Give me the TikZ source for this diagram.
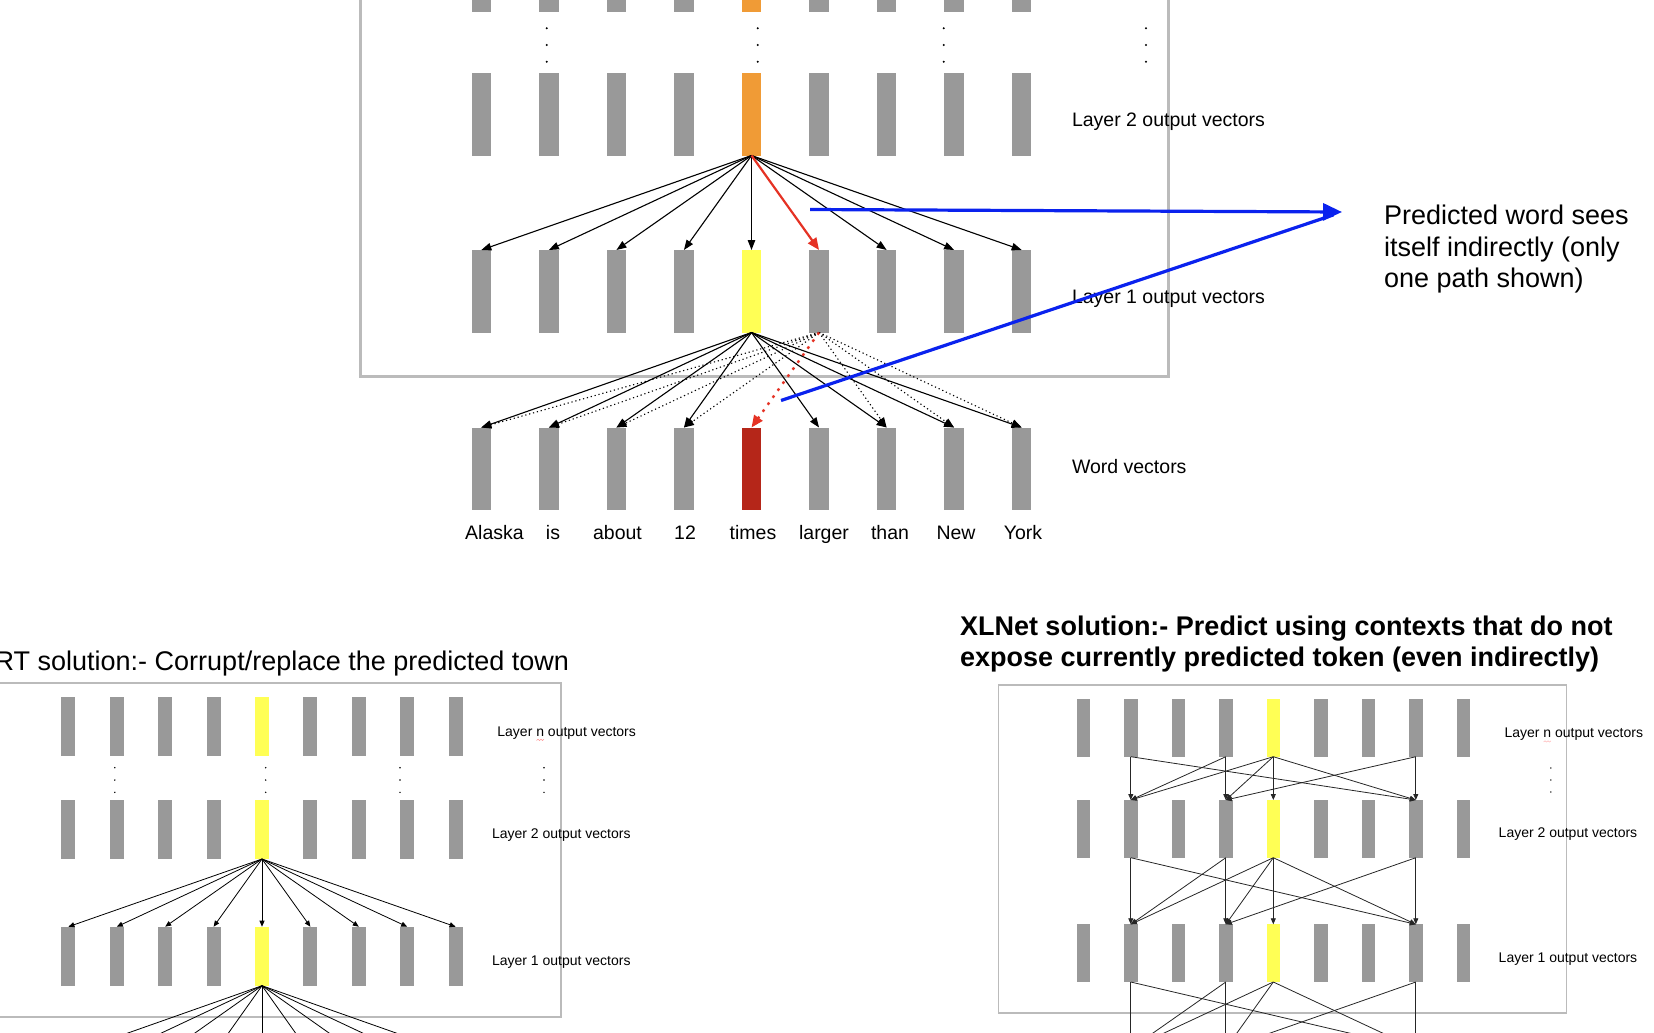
\documentclass[tikz,border=0pt]{standalone}
\usepackage{fontspec}
\setmainfont{Liberation Sans}
\usetikzlibrary{arrows.meta}
\definecolor{barg}{HTML}{999999}
\definecolor{boxg}{HTML}{BBBBBB}
\definecolor{orng}{HTML}{F09B36}
\definecolor{yel}{HTML}{FFFF55}
\definecolor{dred}{HTML}{B52619}
\definecolor{rarr}{HTML}{E53224}
\definecolor{blu}{HTML}{0A22EE}
\newcommand{\fszSmall}{\fontsize{14}{16}\selectfont}
\newcommand{\fszMid}{\fontsize{19.5}{23}\selectfont}
\newcommand{\fszBig}{\fontsize{27}{31}\selectfont}
\begin{document}
\begin{tikzpicture}[x=1pt,y=-1pt,
  tbar/.style={fill=barg, minimum width=19.5pt, minimum height=82.5pt, inner sep=0pt, outer sep=0pt, anchor=north},
  bbar/.style={fill=barg, minimum width=14pt, minimum height=59pt, inner sep=0pt, outer sep=0pt, anchor=north},
  xbar/.style={fill=barg, minimum width=13.5pt, minimum height=57.7pt, inner sep=0pt, outer sep=0pt, anchor=north},
  topbox/.style={draw=boxg, line width=3pt},
  lowbox/.style={draw=boxg, line width=1.8pt},
  tarr/.style={-{Triangle[length=10pt,width=7.5pt]}, line width=1.1pt, black},
  tdot/.style={-{Triangle[length=10pt,width=7.5pt]}, line width=1.1pt, black, dash pattern=on 1.2pt off 2.8pt},
  rarrow/.style={-{Triangle[length=12pt,width=10pt]}, line width=2.2pt, rarr},
  rdot/.style={-{Triangle[length=12pt,width=10pt]}, line width=2.4pt, rarr, dash pattern=on 2.6pt off 6pt},
  barrow/.style={line width=3.2pt, blu},
  barr/.style={-{Triangle[length=6pt,width=5pt]}, line width=0.8pt, black},
  xarr/.style={-{Triangle[length=6pt,width=5pt]}, line width=0.8pt, black!85},
  txt/.style={inner sep=0pt, outer sep=0pt},
  squig/.style={red!45, line width=0.5pt}
]
\useasboundingbox (0,0) rectangle (1654,1033);

% ---------------- top panel ----------------
\draw[topbox] (360,-20) rectangle (1168,376);
\foreach \i/\c in {1/barg,2/barg,3/barg,4/barg,5/orng,6/barg,7/barg,8/barg,9/barg}{
  \node[tbar, fill=\c] (tn-\i) at ({481.3+67.55*(\i-1)},-70) {};
  \node[tbar, fill=\c] (t2-\i) at ({481.3+67.55*(\i-1)},73) {};
}
\foreach \i/\c in {1/barg,2/barg,3/barg,4/barg,5/yel,6/barg,7/barg,8/barg,9/barg}
  \node[tbar, fill=\c] (t1-\i) at ({481.3+67.55*(\i-1)},250) {};
\foreach \i/\c in {1/barg,2/barg,3/barg,4/barg,5/dred,6/barg,7/barg,8/barg,9/barg}
  \node[tbar, fill=\c] (tw-\i) at ({481.3+67.55*(\i-1)},427.5) {};
\foreach \x in {546.7,757.7,943.7,1146}
  \foreach \y in {28.3,45,61.7}
    \fill (\x,\y) circle (1.1pt);

% dotted paths from "larger" layer-1 vector
\foreach \i in {1,2,3,4,7,8,9}
  \draw[tdot] (t1-6.south) -- (tw-\i.north);
\draw[rdot] (t1-6.south) -- (tw-5.north);
% layer 2 -> layer 1
\foreach \i in {1,2,3,4,5,7,8,9}
  \draw[tarr] (t2-5.south) -- (t1-\i.north);
\draw[rarrow] (t2-5.south) -- (t1-6.north);
% layer 1 -> words
\foreach \i in {1,2,3,4,6,7,8,9}
  \draw[tarr] (t1-5.south) -- (tw-\i.north);

\foreach \w/\x [count=\i] in {Alaska/494.5, is/553, about/617.5, 12/685, times/753, larger/824, than/890, New/956, York/1023}
  \node[txt, anchor=base, font=\fszMid] (word-\i) at (\x,539) {\w};
\node[txt, anchor=base west, font=\fszMid] (lab-t2) at (1072,126.7) {Layer 2 output vectors};
\node[txt, anchor=base west, font=\fszMid] (lab-t1) at (1072,303.5) {Layer 1 output vectors};
\node[txt, anchor=base west, font=\fszMid] (lab-tw) at (1072,473) {Word vectors};

% blue arrows
\coordinate (bs1) at (810,209.5);
\coordinate (bs2) at (781,400.5);
\coordinate (btip) at (1342,212);
\draw[barrow, shorten >=9pt] (bs2) -- (btip);
\draw[barrow, -{Triangle[length=19pt,width=17pt]}] (bs1) -- (btip);
\node[txt, anchor=base west, font=\fszBig] (note1) at (1384,224) {Predicted word sees};
\node[txt, anchor=base west, font=\fszBig] (note2) at (1384,256) {itself indirectly (only};
\node[txt, anchor=base west, font=\fszBig] (note3) at (1384,287.5) {one path shown)};

% ---------------- BERT panel ----------------
\node[txt, anchor=base east, font=\fszBig] (bert-title) at (569,670.5) {BERT solution:- Corrupt/replace the predicted town};
\draw[lowbox] (-10,683) rectangle (561,1017);
\foreach \i/\c in {1/barg,2/barg,3/barg,4/barg,5/yel,6/barg,7/barg,8/barg,9/barg}{
  \node[bbar, fill=\c] (bn-\i) at ({68.4+48.4*(\i-1)},697) {};
  \node[bbar, fill=\c] (b2-\i) at ({68.4+48.4*(\i-1)},800) {};
  \node[bbar, fill=\c] (b1-\i) at ({68.4+48.4*(\i-1)},926.7) {};
  \coordinate (bw-\i) at ({68.4+48.4*(\i-1)},1054);
}
\foreach \x in {114.8,265.7,400,544}
  \foreach \y in {767.7,780,792.3}
    \fill (\x,\y) circle (0.8pt);
\foreach \i in {1,...,9}{
  \draw[barr] (b2-5.south) -- (b1-\i.north);
  \draw[barr] (b1-5.south) -- (bw-\i);
}
\node[txt, anchor=base west, font=\fszSmall] (lab-bn) at (497.4,736) {Layer n output vectors};
\draw[squig] (536.5,740.5) -- (538,739.3) -- (539.5,740.5) -- (541,739.3) -- (542.5,740.5) -- (544,739.3);
\node[txt, anchor=base west, font=\fszSmall] (lab-b2) at (492,838.3) {Layer 2 output vectors};
\node[txt, anchor=base west, font=\fszSmall] (lab-b1) at (492,965.7) {Layer 1 output vectors};

% ---------------- XLNet panel ----------------
\node[txt, anchor=base west, font=\fszBig\bfseries] (xl-t1) at (960,635) {XLNet solution:- Predict using contexts that do not};
\node[txt, anchor=base west, font=\fszBig\bfseries] (xl-t2) at (960,666.5) {expose currently predicted token (even indirectly)};
\draw[lowbox] (998.5,685) rectangle (1566.5,1012.7);
\foreach \i/\c in {1/barg,2/barg,3/barg,4/barg,5/yel,6/barg,7/barg,8/barg,9/barg}{
  \node[xbar, fill=\c] (xn-\i) at ({1083.3+47.5*(\i-1)},699) {};
  \node[xbar, fill=\c] (x2-\i) at ({1083.3+47.5*(\i-1)},800) {};
  \node[xbar, fill=\c] (x1-\i) at ({1083.3+47.5*(\i-1)},924.3) {};
  \coordinate (xw-\i) at ({1083.3+47.5*(\i-1)},1048.6);
}
\foreach \y in {768,780,792}
  \fill (1550.8,\y) circle (0.8pt);
\foreach \a/\b in {2/2,2/8,4/2,4/4,5/2,5/4,5/5,5/8,8/8,8/4}{
  \draw[xarr] (xn-\a.south) -- (x2-\b.north);
  \draw[xarr] (x2-\a.south) -- (x1-\b.north);
}
\foreach \a/\b in {2/2,2/8,4/2,4/4,5/2,5/4,5/8,8/8,8/4}
  \draw[xarr] (x1-\a.south) -- (xw-\b);
\node[txt, anchor=base west, font=\fszSmall] (lab-xn) at (1504.5,737.7) {Layer n output vectors};
\draw[squig, red!30] (1543.5,742) -- (1545,740.8) -- (1546.5,742) -- (1548,740.8) -- (1549.5,742) -- (1551,740.8);
\node[txt, anchor=base west, font=\fszSmall] (lab-x2) at (1498.7,837.7) {Layer 2 output vectors};
\node[txt, anchor=base west, font=\fszSmall] (lab-x1) at (1498.7,962.7) {Layer 1 output vectors};
\end{tikzpicture}
\end{document}
